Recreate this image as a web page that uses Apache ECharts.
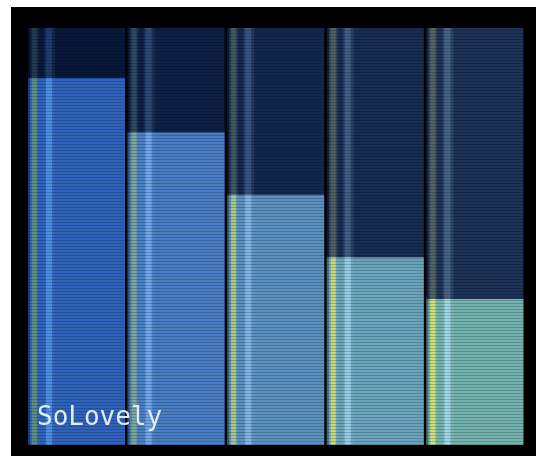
<!DOCTYPE html>
<html lang="en">
<head>
    <meta charset="UTF-8">
    <title>SoLovely</title>
    <style>
        html, body { margin: 0; padding: 0; background: #fff; }
        #chart { width: 541px; height: 462px; filter: blur(0.5px); }
    </style>
</head>
<body>
<div id="chart"></div>

<script src="https://cdn.jsdelivr.net/npm/echarts@6/dist/echarts.min.js"></script>
<script>
// chart data
const categories = ['A', 'B', 'C', 'D', 'E'];
const values = [88, 75, 60, 45, 35];
const yMax = 100;

// palette per column (bar fill / dark column behind it)
const barColors = ['#2f62ba', '#4a7ec4', '#5a8fbe', '#6aa4bc', '#74b2ae'];
const darkColors = ['#07183a', '#0d2046', '#13284f', '#182d54', '#1c3258'];
const greenStripe = ['#5c8c88', '#79a89a', '#a8c888', '#c4d87c', '#cfe07a'];
const blueStripe = ['#4c8ee6', '#70a6e8', '#82b4e4', '#96cce8', '#a2d8e6'];

// little 1x3 tile for the scanline look
const tile = document.createElement('canvas');
tile.width = 4; tile.height = 3;
const tctx = tile.getContext('2d');
tctx.fillStyle = 'rgba(0,0,0,0.2)';
tctx.fillRect(0, 0, 4, 1);
const scan = { image: tile, repeat: 'repeat' };

const chart = echarts.init(document.getElementById('chart'));

chart.setOption({
    backgroundColor: '#ffffff',
    animation: false,
    grid: { left: 28, right: 15, top: 28, bottom: 17 },
    xAxis: { type: 'category', data: categories, show: false },
    yAxis: { type: 'value', min: 0, max: yMax, show: false },
    graphic: [
        { type: 'rect', z: -10, shape: { x: 11, y: 7, width: 525, height: 449 }, style: { fill: '#000' } },
        {
            type: 'text', z: 100, left: 37, top: 405,
            style: { text: 'SoLovely', fill: '#e2ebf4', font: '26px "DejaVu Sans Mono"' }
        }
    ],
    series: [{
        type: 'custom',
        data: values.map((v, i) => [i, v]),
        renderItem: function (params, api) {
            const i = api.value(0);
            const base = api.coord([i, 0]);
            const top = api.coord([i, api.value(1)]);
            const full = api.coord([i, yMax]);
            const band = api.size([1, 0])[0];
            const x0 = base[0] - band / 2;
            const w = band - 2.6;
            const yTop = full[1], yBar = top[1], yBot = base[1];
            const hDark = yBar - yTop, hBar = yBot - yBar;
            return {
                type: 'group',
                children: [
                    { type: 'rect', shape: { x: x0, y: yTop, width: w, height: yBot - yTop }, style: { fill: darkColors[i] } },
                    { type: 'rect', shape: { x: x0, y: yBar, width: w, height: hBar }, style: { fill: barColors[i] } },
                    // soft halos around the stripes
                    { type: 'rect', shape: { x: x0 + 2, y: yTop, width: 9, height: yBot - yTop }, style: { fill: greenStripe[i], opacity: 0.12 } },
                    { type: 'rect', shape: { x: x0 + 16, y: yTop, width: 11, height: yBot - yTop }, style: { fill: blueStripe[i], opacity: 0.12 } },
                    // stripes, dim in the dark part
                    { type: 'rect', shape: { x: x0 + 4, y: yTop, width: 5, height: hDark }, style: { fill: greenStripe[i], opacity: 0.22 } },
                    { type: 'rect', shape: { x: x0 + 18, y: yTop, width: 6, height: hDark }, style: { fill: blueStripe[i], opacity: 0.22 } },
                    { type: 'rect', shape: { x: x0 + 4, y: yBar, width: 5, height: hBar }, style: { fill: greenStripe[i] } },
                    { type: 'rect', shape: { x: x0 + 18, y: yBar, width: 6, height: hBar }, style: { fill: blueStripe[i] } },
                    // dark left edge
                    { type: 'rect', shape: { x: x0, y: yTop, width: 2, height: yBot - yTop }, style: { fill: 'rgba(0,0,0,0.35)' } },
                    // scanlines
                    { type: 'rect', shape: { x: x0, y: yTop, width: w, height: yBot - yTop }, style: { fill: scan } }
                ]
            };
        }
    }]
});
</script>
</body>
</html>
